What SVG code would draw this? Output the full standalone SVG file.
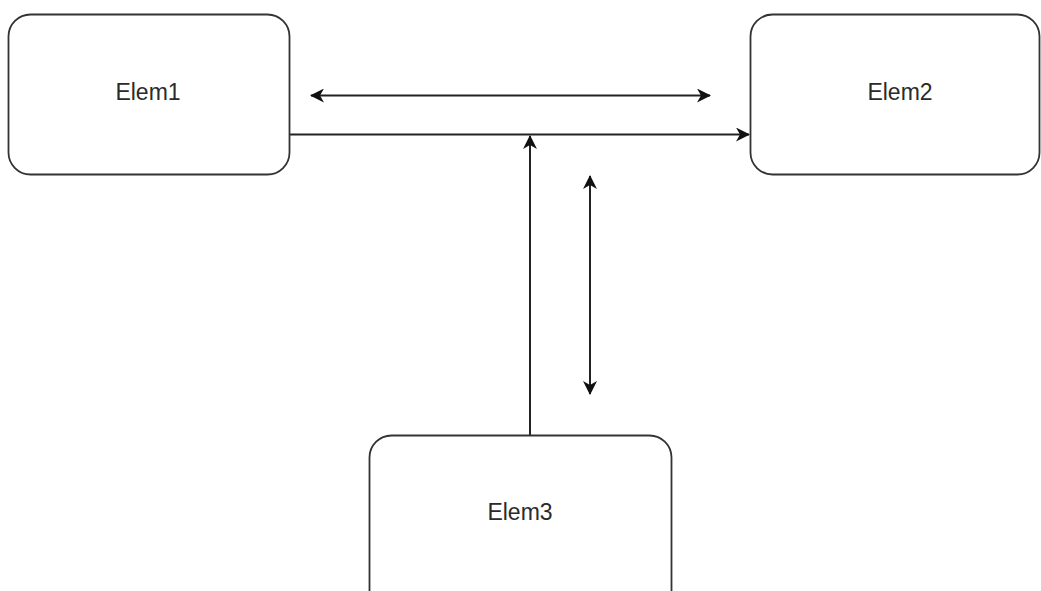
<svg xmlns="http://www.w3.org/2000/svg" width="1041" height="591" viewBox="0 0 1041 591">
  <style>
    .box { fill: #ffffff; stroke: #333333; stroke-width: 1.8; }
    .label { font-family: "Liberation Sans", Arial, sans-serif; font-size: 23px; fill: #2a2a2a; text-anchor: middle; }
    .edge { fill: none; stroke: #222222; stroke-width: 2; }
  </style>
  <defs>
    <marker id="arrow" viewBox="0 0 14 14" refX="13" refY="7" markerWidth="14" markerHeight="14" markerUnits="userSpaceOnUse" orient="auto-start-reverse">
      <path d="M0,0 L14,7 L0,14 L4,7 Z" fill="#111111"/>
    </marker>
  </defs>
  <rect width="1041" height="591" fill="#ffffff"/>

  <g id="connectors">
    <!-- two-way link between Elem1 and Elem2 -->
    <line class="edge" x1="311" y1="95.5" x2="710" y2="95.5" marker-start="url(#arrow)" marker-end="url(#arrow)"/>
    <!-- Elem1 to Elem2 -->
    <line class="edge" x1="290" y1="134.5" x2="749" y2="134.5" marker-end="url(#arrow)"/>
    <!-- Elem3 up to the Elem1-Elem2 line -->
    <line class="edge" x1="530" y1="435" x2="530" y2="136" marker-end="url(#arrow)"/>
    <!-- two-way vertical link -->
    <line class="edge" x1="590" y1="176" x2="590" y2="394" marker-start="url(#arrow)" marker-end="url(#arrow)"/>
  </g>

  <g id="elem1">
    <rect class="box" x="8.5" y="14.5" width="281" height="160" rx="22" ry="22"/>
    <text class="label" x="148" y="100">Elem1</text>
  </g>
  <g id="elem2">
    <rect class="box" x="750.5" y="14.5" width="289" height="160" rx="22" ry="22"/>
    <text class="label" x="900" y="100">Elem2</text>
  </g>
  <g id="elem3">
    <rect class="box" x="369.5" y="435.5" width="302" height="180" rx="22" ry="22"/>
    <text class="label" x="520" y="520">Elem3</text>
  </g>
</svg>
